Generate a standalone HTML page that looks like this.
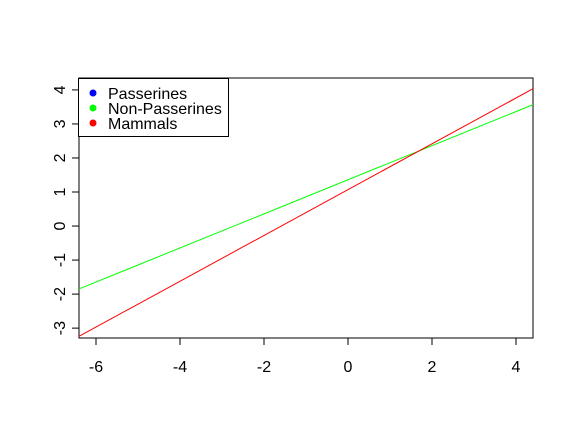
<!DOCTYPE html>
<html><head><meta charset="utf-8"><style>
html,body{margin:0;padding:0;background:#fff;}
svg{display:block;font-family:"Liberation Sans",Arial,sans-serif;}
</style></head><body>
<svg id="chart" width="574" height="436" viewBox="0 0 574 436">
<rect x="79" y="78" width="454" height="260" fill="none" stroke="#000" stroke-width="1"/>
<g id="xaxis"></g>
<g id="yaxis"></g>
<g id="lines"></g>
<g>
<rect x="78.5" y="78.5" width="150" height="58" fill="#fff" stroke="#000"/>
<circle cx="93" cy="93" r="3.5" fill="#0000ff"/>
<text x="108" y="99" font-size="16">Passerines</text>
<circle cx="93" cy="108" r="3.5" fill="#00ff00"/>
<text x="108" y="114" font-size="16">Non-Passerines</text>
<circle cx="93" cy="123" r="3.5" fill="#ff0000"/>
<text x="108" y="129" font-size="16">Mammals</text>
</g>
</svg>
<script>
const xTicks = [-6,-4,-2,0,2,4];
const yTicks = [-3,-2,-1,0,1,2,3,4];
const seriesNames = ["Non-Passerines","Mammals"];
const seriesColors = ["#00ff00","#ff0000"];
const intercepts = [1.36, 1.07];
const slopes = [0.501, 0.673];
const xMin=-6.405, xMax=4.405, yMin=-3.29, yMax=4.35;
const L=79,R=533,T=78,B=338;
function sx(v){return L+(v-xMin)/(xMax-xMin)*(R-L);}
function sy(v){return B-(v-yMin)/(yMax-yMin)*(B-T);}
const NS="http://www.w3.org/2000/svg";
function mk(tag,attrs,parent){const e=document.createElementNS(NS,tag);for(const k in attrs)e.setAttribute(k,attrs[k]);parent.appendChild(e);return e;}
const xa=document.getElementById('xaxis'), ya=document.getElementById('yaxis'), lg=document.getElementById('lines');
mk('line',{x1:sx(xTicks[0]),x2:sx(xTicks[xTicks.length-1]),y1:B,y2:B,stroke:'#000'},xa);
xTicks.forEach(t=>{
  const l=mk('line',{x1:sx(t),x2:sx(t),y1:B,y2:B+7,stroke:'#000'},xa);
  
  
  const tx=mk('text',{x:sx(t),y:B+34,'text-anchor':'middle','font-size':16},xa);
  tx.textContent=String(t);
  
  
});
mk('line',{x1:L,x2:L,y1:sy(yTicks[0]),y2:sy(yTicks[yTicks.length-1]),stroke:'#000'},ya);
yTicks.forEach(t=>{
  const l=mk('line',{x1:L-7,x2:L,y1:sy(t),y2:sy(t),stroke:'#000'},ya);
  
  
  const tx=mk('text',{x:0,y:0,'text-anchor':'middle','font-size':16,transform:`translate(${L-14},${sy(t)}) rotate(-90)`},ya);
  tx.textContent=String(t);
  
  
});
seriesNames.forEach((n,i)=>{
  const l=mk('line',{x1:sx(xMin),y1:sy(intercepts[i]+slopes[i]*xMin),x2:sx(xMax),y2:sy(intercepts[i]+slopes[i]*xMax),stroke:seriesColors[i],'stroke-width':1},lg);
  
  
});
</script>
</body></html>
